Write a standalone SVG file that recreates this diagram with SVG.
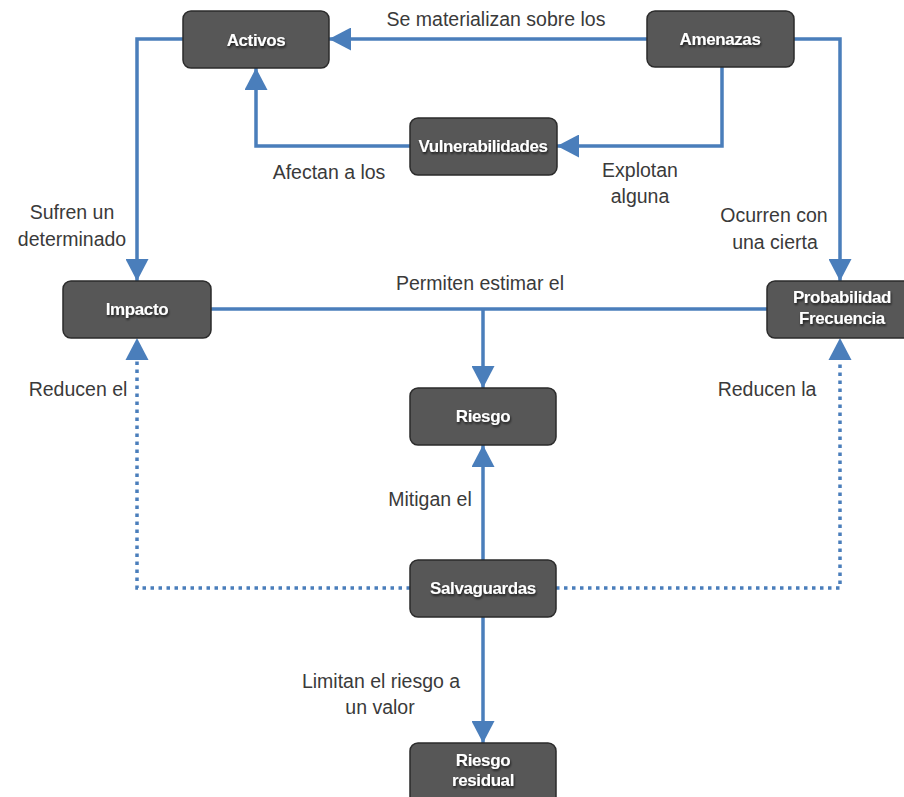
<svg xmlns="http://www.w3.org/2000/svg" width="904" height="797" viewBox="0 0 904 797">
<style>
.box{fill:#575757;stroke:#2b2b2b;stroke-width:1.5}
.nt{font-family:"Liberation Sans",Arial,sans-serif;font-weight:bold;font-size:17px;fill:#ffffff;text-anchor:middle;letter-spacing:-0.4px;filter:url(#sh)}
.lbl{font-family:"Liberation Sans",Arial,sans-serif;font-size:19.5px;fill:#3a3a3a;text-anchor:middle}
.ln{fill:none;stroke:#4a7ebb;stroke-width:3.5}
.dot{fill:none;stroke:#4a7ebb;stroke-width:3.5;stroke-dasharray:3.5 4.5}
</style>
<defs>
<filter id="sh" x="-10%" y="-30%" width="130%" height="180%">
<feDropShadow dx="0.8" dy="1.8" stdDeviation="0.9" flood-color="#000" flood-opacity="0.7"/>
</filter>
<marker id="ah" markerUnits="userSpaceOnUse" markerWidth="22" markerHeight="23" refX="22" refY="11.5" orient="auto">
<path d="M0,0 L22,11.5 L0,23 z" fill="#4a7ebb"/>
</marker>
</defs>
<rect width="904" height="797" fill="#ffffff"/>
<g id="connectors">
<path class="ln" d="M647,39 L329,39" marker-end="url(#ah)"/>
<path class="ln" d="M183,39 L137,39 L137,281" marker-end="url(#ah)"/>
<path class="ln" d="M794,39 L840,39 L840,281" marker-end="url(#ah)"/>
<path class="ln" d="M722,67 L722,146 L557,146" marker-end="url(#ah)"/>
<path class="ln" d="M410,146 L256,146 L256,68" marker-end="url(#ah)"/>
<path class="ln" d="M211,309 L767,309"/>
<path class="ln" d="M483,309 L483,388" marker-end="url(#ah)"/>
<path class="ln" d="M483,560 L483,445" marker-end="url(#ah)"/>
<path class="ln" d="M483,617 L483,743" marker-end="url(#ah)"/>
<path class="dot" d="M410,588 L137,588 L137,360"/>
<path d="M137,338 L148.5,360 L125.5,360 z" fill="#4a7ebb"/>
<path class="dot" d="M556,588 L840,588 L840,360"/>
<path d="M840,338 L851.5,360 L828.5,360 z" fill="#4a7ebb"/>
<text class="lbl" x="496" y="26">Se materializan sobre los</text>
<text class="lbl" x="329" y="179">Afectan a los</text>
<text class="lbl" x="640" y="177">Explotan</text>
<text class="lbl" x="640" y="203">alguna</text>
<text class="lbl" x="72" y="219">Sufren un</text>
<text class="lbl" x="72" y="246">determinado</text>
<text class="lbl" x="774" y="222">Ocurren con</text>
<text class="lbl" x="775" y="249">una cierta</text>
<text class="lbl" x="480" y="290">Permiten estimar el</text>
<text class="lbl" x="78" y="396">Reducen el</text>
<text class="lbl" x="767" y="396">Reducen la</text>
<text class="lbl" x="430" y="506">Mitigan el</text>
<text class="lbl" x="381" y="688">Limitan el riesgo a</text>
<text class="lbl" x="380" y="714">un valor</text>
</g>
<g id="activos"><rect class="box" x="183" y="11" width="146" height="57" rx="8"/><text class="nt" x="256" y="45.5">Activos</text></g>
<g id="amenazas"><rect class="box" x="647" y="11" width="147" height="56" rx="8"/><text class="nt" x="720" y="45">Amenazas</text></g>
<g id="vulnerabilidades"><rect class="box" x="410" y="118" width="147" height="57" rx="8"/><text class="nt" x="483" y="152">Vulnerabilidades</text></g>
<g id="impacto"><rect class="box" x="63" y="281" width="148" height="57" rx="8"/><text class="nt" x="137" y="315">Impacto</text></g>
<g id="probabilidad"><rect class="box" x="767" y="281" width="146" height="57" rx="8"/><text class="nt" x="842" y="303">Probabilidad</text><text class="nt" x="842" y="324">Frecuencia</text></g>
<g id="riesgo"><rect class="box" x="410" y="388" width="146" height="57" rx="8"/><text class="nt" x="483" y="422">Riesgo</text></g>
<g id="salvaguardas"><rect class="box" x="410" y="560" width="146" height="57" rx="8"/><text class="nt" x="483" y="594">Salvaguardas</text></g>
<g id="riesgo-residual"><rect class="box" x="410" y="743" width="146" height="62" rx="8"/><text class="nt" x="483" y="766">Riesgo</text><text class="nt" x="483" y="786">residual</text></g>
</svg>
